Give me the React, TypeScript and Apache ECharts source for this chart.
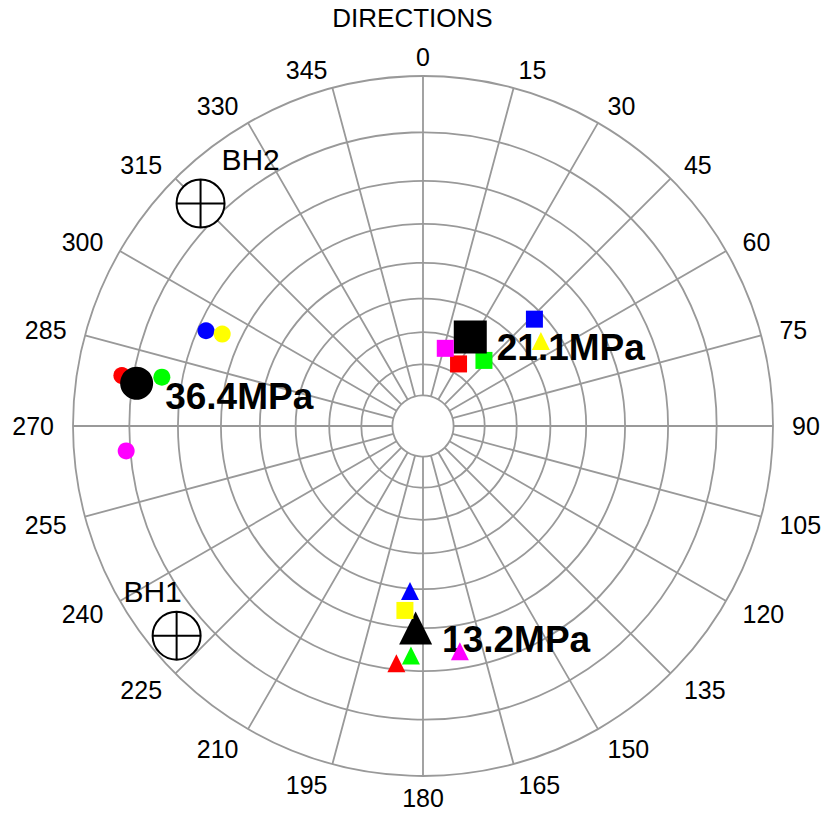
import React, { useEffect, useRef } from 'react';
import * as echarts from 'echarts';

const TITLE = 'DIRECTIONS';
// azimuth tick labels (degrees, clockwise from north)
const directionTicks = [0, 15, 30, 45, 60, 75, 90, 105, 120, 135, 150, 165, 180, 195, 210, 225, 240, 255, 270, 285, 300, 315, 330, 345];
// concentric plunge circles (stereographic), degrees
const gridPlunges = [10, 20, 30, 40, 50, 60, 70];
const holePlunge = 80;

// measurement sets
const setNames = ['Set red', 'Set green', 'Set blue', 'Set yellow', 'Set magenta'];
const setColors = ['#ff0000', '#00ff00', '#0000ff', '#ffff00', '#ff00ff'];
// circles: azimuth / plunge
const circleAz = [279.5, 280.6, 293.7, 294.6, 265.2];
const circlePl = [7.8, 15.6, 21.8, 25.5, 9.2];
// squares
const squareAz = [29.8, 42.9, 46.2, 185.6, 16.0];
const squarePl = [66.9, 61.3, 42.4, 34.2, 64.0];
// triangles
const triangleAz = [186.4, 183.0, 184.5, 54.2, 170.7];
const trianglePl = [21.4, 23.4, 39.4, 44.9, 23.8];

// mean principal stresses
const meanAz = [278.5, 28.0, 182.1];
const meanPl = [10.8, 57.9, 30.0];
const meanSym = ['circle', 'rect', 'triangle'];
const meanLabels = ['36.4MPa', '21.1MPa', '13.2MPa'];
const meanLabelDy = [13, 10, 12];
const meanLabelDist = [12, 10, 10];

// boreholes
const bhNames = ['BH1', 'BH2'];
const bhAz = [229.6, 315.0];
const bhPl = [4.5, 6.1];
const bhLabelDx = [-24, 50];

const proj = (pl: number) => Math.tan(((90 - pl) / 2) * Math.PI / 180);

const R = 350;
const LABEL_GAP = 19;
const GRID_COLOR = '#999';
const GRID_WIDTH = 1.8;
const FONT = 'Liberation Sans, Arial, Helvetica, sans-serif';

export default function App() {
  const ref = useRef<HTMLDivElement>(null);
  useEffect(() => {
    document.body.style.margin = '0';
    const chart = echarts.init(ref.current!, null, { renderer: 'svg' });
    const rMin = proj(holePlunge);

    const setSeries = setNames.map((name, i) => ({
      name,
      type: 'scatter',
      coordinateSystem: 'polar',
      z: i < 2 ? 1 : 3,
      itemStyle: { color: setColors[i], opacity: 1 },
      data: [
        { value: [proj(circlePl[i]), circleAz[i]], symbol: 'circle', symbolSize: 17 },
        { value: [proj(squarePl[i]), squareAz[i]], symbol: 'rect', symbolSize: 17 },
        { value: [proj(trianglePl[i]), triangleAz[i]], symbol: 'triangle', symbolSize: 18 },
      ],
    }));

    const meanSeries = {
      name: 'Mean',
      type: 'scatter',
      coordinateSystem: 'polar',
      z: 2,
      itemStyle: { color: '#000', opacity: 1 },
      data: meanAz.map((az, i) => ({
        value: [proj(meanPl[i]), az],
        symbol: meanSym[i],
        symbolSize: 33,
        label: {
          show: true,
          position: 'right',
          distance: meanLabelDist[i],
          offset: [0, meanLabelDy[i]],
          formatter: meanLabels[i],
          fontSize: 37,
          fontWeight: 'bold',
          color: '#000',
          fontFamily: FONT,
        },
      })),
    };

    const bhSeries = {
      name: 'Boreholes',
      type: 'scatter',
      coordinateSystem: 'polar',
      z: 2,
      symbol: 'path://M0,-1A1,1 0 1,1 0,1A1,1 0 1,1 0,-1ZM-1,0L1,0M0,-1L0,1',
      symbolSize: 48,
      itemStyle: { color: '#fff', borderColor: '#000', borderWidth: 2, opacity: 1 },
      data: bhAz.map((az, i) => ({
        value: [proj(bhPl[i]), az],
        label: {
          show: true,
          position: 'top',
          distance: 4,
          offset: [bhLabelDx[i], 0],
          formatter: bhNames[i],
          fontSize: 30,
          color: '#000',
          fontFamily: FONT,
        },
      })),
    };

    const labelR = (R + LABEL_GAP) / R; // projected units, radius axis is linear in them
    const tickLabelSeries = {
      name: 'Directions',
      type: 'scatter',
      coordinateSystem: 'polar',
      clip: false,
      silent: true,
      z: 1,
      symbol: 'circle',
      symbolSize: 1,
      itemStyle: { color: 'rgba(0,0,0,0)', opacity: 1 },
      data: directionTicks.map((a) => ({
        value: [labelR, a],
        label: {
          show: true,
          position: 'inside',
          formatter: String(a),
          align: a === 0 || a === 180 ? 'center' : a < 180 ? 'left' : 'right',
          verticalAlign: 'middle',
          offset: [0, a > 90 && a < 270 ? 3 : 0],
          fontSize: 25,
          color: '#000',
          opacity: 1,
          fontFamily: FONT,
        },
      })),
    };

    const circleSeries = {
      type: 'custom',
      coordinateSystem: 'polar',
      z: 0,
      silent: true,
      data: gridPlunges.map((p) => [proj(p), 0]),
      renderItem: (params: any, api: any) => {
        const c = params.coordSys;
        const pt = api.coord([api.value(0), 0]);
        const rad = Math.hypot(pt[0] - c.cx, pt[1] - c.cy);
        return {
          type: 'circle',
          shape: { cx: c.cx, cy: c.cy, r: rad },
          style: { fill: 'none', stroke: GRID_COLOR, lineWidth: GRID_WIDTH },
          silent: true,
        };
      },
    };

    chart.setOption({
      animation: false,
      backgroundColor: '#fff',
      textStyle: { fontFamily: FONT },
      title: {
        text: TITLE,
        left: 'center',
        top: 0,
        textStyle: { fontSize: 26, fontWeight: 'normal', color: '#000', fontFamily: FONT },
      },
      polar: { center: [423, 426], radius: [R * rMin, R] },
      angleAxis: {
        type: 'value',
        min: 0,
        max: 360,
        interval: 15,
        startAngle: 90,
        clockwise: true,
        axisLine: { show: true, lineStyle: { color: GRID_COLOR, width: GRID_WIDTH } },
        axisTick: { show: false },
        axisLabel: { show: false },
        splitLine: { show: true, lineStyle: { color: GRID_COLOR, width: GRID_WIDTH } },
      },
      radiusAxis: {
        type: 'value',
        min: rMin,
        max: 1,
        axisLine: { show: false },
        axisTick: { show: false },
        axisLabel: { show: false },
        splitLine: { show: false },
      },
      series: [circleSeries, tickLabelSeries, setSeries[0], setSeries[1], meanSeries, bhSeries, setSeries[2], setSeries[3], setSeries[4]],
    });
    return () => chart.dispose();
  }, []);
  return <div ref={ref} style={{ width: 825, height: 814 }} />;
}
